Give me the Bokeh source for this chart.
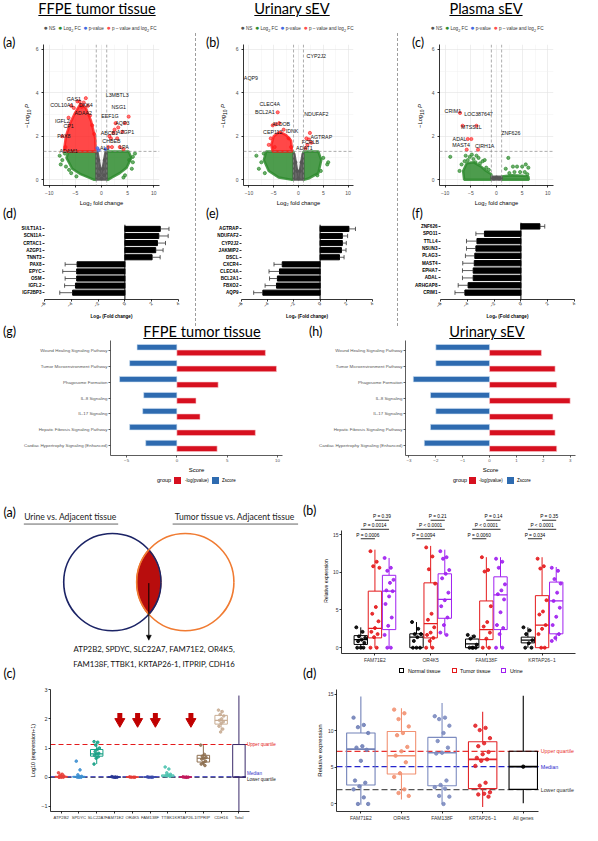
import math
import numpy as np
from bokeh.plotting import figure
from bokeh.layouts import row, column
from bokeh.models import Div, Span, Range1d, FixedTicker, Arrow, NormalHead
from bokeh.core.properties import value
from bokeh.embed import file_html
from bokeh.resources import INLINE

# ======================= DATA =======================
# ---- volcano (a) FFPE tumor tissue (x = log2 FC, y = -log10 P)
va_green_core_xs = [[-1.0, -1.0, -6.3, -6.7, -5.6, -4.0, -2.5, -1.5], [1.0, 1.0, 5.2, 5.7, 4.8, 3.5, 2.0, 1.3]]
va_green_core_ys = [[0.0, 1.3, 1.3, 1.0, 0.5, 0.25, 0.1, 0.0], [0.0, 1.3, 1.3, 1.0, 0.55, 0.3, 0.1, 0.0]]
va_gray_core_x = [-1.0, -1.0, -0.75, 0.0, 0.75, 1.0, 1.0]
va_gray_core_y = [0.0, 1.3, 1.3, 0.25, 1.3, 1.3, 0.0]
va_red_core_x = [-1.1, -1.2, -2.0, -3.0, -4.0, -5.0, -6.0, -6.8, -7.2]
va_red_core_y = [1.3, 1.9, 2.7, 3.3, 3.5, 3.1, 2.6, 2.0, 1.3]
va_red_x = [-3.0, -5.8, -3.8, -2.6, -6.3, -7.5, -4.6, -2.2, -1.4, -6.9, -5.3, -4.2, -3.4, -1.8,
            1.3, 1.8, 2.5, 2.3, 3.0, 4.0, 4.5, 5.2, 3.5, 4.2, 2.7, 1.5, 2.0, 3.2]
va_red_y = [3.75, 3.4, 3.35, 3.4, 2.85, 2.0, 3.6, 2.95, 2.1, 1.5, 3.3, 3.6, 3.55, 2.5,
            1.5, 1.9, 2.3, 2.15, 1.9, 2.2, 2.6, 2.9, 1.5, 1.4, 2.6, 2.0, 1.5, 2.4]
va_green_x = [-7.5, -6.8, -7.0, -8.0, -5.8, 6.0, 6.4, 5.8, 4.5, -6.2, 5.3, 6.0, -7.8, 4.2, -4.8]
va_green_y = [0.9, 0.6, 1.2, 1.1, 0.3, 0.8, 1.2, 0.5, 0.2, 0.45, 0.9, 1.05, 0.7, 0.1, 0.15]
va_gray_x = [-0.3, 0.3, -0.6, 0.6, 0.0, -0.5, 0.5]
va_gray_y = [0.5, 0.5, 0.9, 0.9, 0.05, 0.2, 0.2]
va_blue_x = [-0.8, -0.55, 0.8]
va_blue_y = [1.45, 1.35, 1.4]
va_lab_text = ["GAS1", "COL10A1", "DKK4", "ADAA2", "IGFL2", "CP1", "PAX8", "ADAM1",
               "L3MBTL3", "NSG1", "EEF1G", "AQP3", "AZGP1", "ABCB1", "CHBEB", "AL1", "LPA"]
va_lab_x = [-5.3, -7.6, -3.0, -3.5, -7.5, -6.3, -7.2, -6.3, 3.0, 3.3, 1.6, 4.0, 4.6, 1.5, 1.9, 0.6, 4.3]
va_lab_y = [3.69, 3.45, 3.42, 3.05, 2.7, 2.45, 2.0, 1.33, 3.9, 3.35, 2.95, 2.6, 2.2, 2.15, 1.78, 1.45, 1.48]

# ---- volcano (b) urinary sEV
vb_green_core_xs = [[-1.0, -1.0, -6.5, -7.0, -6.0, -4.0, -1.5], [1.0, 1.0, 4.0, 4.6, 4.0, 2.0, 1.2]]
vb_green_core_ys = [[0.0, 1.3, 1.3, 0.9, 0.4, 0.1, 0.0], [0.0, 1.3, 1.3, 0.9, 0.3, 0.05, 0.0]]
vb_gray_core_x = [-1.0, -1.0, -0.8, 0.0, 0.8, 1.0, 1.0]
vb_gray_core_y = [0.0, 1.2, 1.2, 0.1, 1.2, 1.2, 0.0]
vb_red_core_x = [-1.3, -1.5, -2.5, -3.8, -5.0, -5.5, -5.2]
vb_red_core_y = [1.3, 1.8, 2.05, 2.2, 2.0, 1.6, 1.3]
vb_red_x = [-4.2, -5.2, -4.6, -3.9, -5.6, -6.0, -2.0, -1.5, -3.0, -4.8, 2.3, 2.1, 1.8, 2.6, 1.4, 1.6]
vb_red_y = [3.1, 2.5, 2.55, 2.6, 1.9, 1.6, 1.9, 1.5, 2.3, 1.5, 2.15, 1.85, 1.6, 1.7, 1.45, 1.9]
vb_green_x = [-8.5, -7.5, -7.0, -8.0, 5.8, 5.0, 4.5, 6.0, -6.8, 3.8]
vb_green_y = [1.1, 0.8, 1.2, 0.5, 0.7, 1.0, 0.4, 0.8, 0.3, 0.2]
vb_gray_x = [-0.3, 0.3, 0.0, -0.6, 0.6]
vb_gray_y = [0.4, 0.4, 0.05, 0.8, 0.8]
vb_blue_x = []
vb_blue_y = []
vb_lab_text = ["AQP9", "CLEC4A", "BCL2A1", "ALDOB", "CEP112", "IDNK", "CYP2J2", "NDUFAF2", "AGTRAP", "FCRLB", "ADAT1"]
vb_lab_x = [-9.6, -5.8, -6.8, -3.5, -5.2, -1.3, 3.6, 3.6, 4.6, 2.4, 1.2]
vb_lab_y = [4.67, 3.5, 3.1, 2.58, 2.2, 2.25, 5.7, 3.0, 1.96, 1.72, 1.47]

# ---- volcano (c) plasma sEV
vc_green_core_xs = [[-1.0, -6.3, -6.5, -5.8, -4.5, -3.0, -2.0, -1.0], [1.0, 1.0, 3.0, 5.0, 6.2, 6.3]]
vc_green_core_ys = [[0.0, 0.0, 0.4, 0.75, 0.8, 0.6, 0.4, 0.25], [0.0, 0.15, 0.2, 0.18, 0.15, 0.0]]
vc_gray_core_x = [-1.0, -1.0, 1.0, 1.0]
vc_gray_core_y = [0.0, 0.15, 0.15, 0.0]
vc_red_core_x = []
vc_red_core_y = []
vc_red_x = [-7.1, -6.6, -3.9, -5.6, -4.9, -5.8, -3.6]
vc_red_y = [3.07, 2.48, 2.48, 1.87, 1.87, 1.38, 1.38]
vc_green_x = [-9.0, -6.0, -5.2, -4.5, -3.5, -2.7, -3.2, -6.8, -7.2, -2.0, -1.5, 2.3, 3.2, 4.0, 5.0,
              6.2, 2.5, 3.5, 5.5, 1.8, -4.8, -4.1, -5.6, -6.2, -3.9, -2.3, 5.7, 4.6, 6.0]
vc_green_y = [1.05, 1.1, 1.05, 0.95, 1.0, 0.85, 0.75, 0.7, 0.4, 0.55, 0.45, 1.0, 0.6, 0.6, 0.6,
              0.55, 0.3, 0.35, 0.35, 0.5, 1.15, 0.8, 0.9, 0.85, 1.1, 0.9, 0.7, 0.35, 0.25]
vc_gray_x = [-0.5, 0.0, 0.5]
vc_gray_y = [0.05, 0.1, 0.05]
vc_blue_x = []
vc_blue_y = []
vc_lab_text = ["CRIM1", "LOC387647", "MTSS1L", "ZNF626", "ADAL", "MAST4", "CIRH1A"]
vc_lab_x = [-8.5, -3.5, -4.9, 2.8, -7.2, -6.9, -2.3]
vc_lab_y = [3.15, 3.0, 2.4, 2.13, 1.88, 1.6, 1.56]

# ---- (d)(e)(f) log2 fold change bars
d_genes = ["SULT1A1", "SCN11A", "CRTAC1", "AZGP1", "TNNT3", "PAX8", "EPYC", "OSM", "IGFL2", "IGF2BP3"]
d_fc = [2.64, 2.53, 2.43, 2.3, 2.03, -3.57, -3.6, -3.6, -3.69, -3.9]
d_err = [0.65, 0.7, 0.6, 0.55, 0.6, 0.89, 1.04, 0.86, 0.81, 0.96]
e_genes = ["AGTRAP", "NDUFAF2", "CYP2J2", "JAKMIP2", "DSCL", "CXCR4", "CLEC4A", "BCL2A1", "FBXO2", "AQP9"]
e_fc = [2.2, 1.7, 1.7, 1.63, 1.48, -2.89, -3.1, -3.26, -3.33, -4.37]
e_err = [0.5, 0.4, 0.3, 0.35, 0.35, 0.63, 0.8, 0.6, 0.87, 0.7]
f_genes = ["ZNF626", "SPO11", "TTLL4", "NSUN3", "PLAG3", "MAST4", "EPHA7", "ADAL", "ARHGAP8", "CRIM1"]
f_fc = [1.42, -2.72, -3.28, -3.36, -3.44, -3.48, -3.56, -3.56, -3.94, -4.18]
f_err = [0.36, 0.64, 0.78, 0.7, 0.7, 0.86, 0.8, 0.8, 0.74, 0.74]
fc_ticks = [-6, -4, -2, 0, 2, 4]

# ---- (g)(h) pathways
paths = ["Wound Healing Signaling Pathway", "Tumor Microenvironment Pathway", "Phagosome Formation",
         "IL-8 Signaling", "IL-17 Signaling", "Hepatic Fibrosis Signaling Pathway",
         "Cardiac Hypertrophy Signaling (Enhanced)"]
g_logp = [8.8, 9.9, 4.1, 1.9, 2.3, 7.8, 4.0]
g_z = [-3.96, -4.7, -5.7, -3.3, -3.4, -4.7, -3.1]
h_logp = [1.93, 2.44, 2.5, 3.0, 2.36, 2.44, 2.5]
h_z = [-2.0, -2.0, -2.84, -2.2, -2.0, -2.2, -2.43]

# ---- bottom (a) Venn
venn_titles = ["Urine vs. Adjacent tissue", "Tumor tissue vs. Adjacent tissue"]
venn_lines = ["ATP2B2, SPDYC, SLC22A7, FAM71E2, OR4K5,", "FAM138F, TTBK1, KRTAP26-1, ITPRIP, CDH16"]

# ---- bottom (b) relative expression box plots
b_genes = ["FAM71E2", "OR4K5", "FAM138F", "KRTAP26\u22121"]
b_groups = ["Normal tissue", "Tumor tissue", "Urine"]
b_normal_q1 = [0.43, 0.0, 0.0, 0.64]
b_normal_med = [1.07, 1.4, 0.5, 1.0]
b_normal_q3 = [1.6, 1.84, 1.15, 1.4]
b_normal_lo = [0.0, 0.0, 0.0, 0.0]
b_normal_hi = [2.7, 3.4, 1.7, 2.7]
b_tumor_q1 = [1.3, 1.3, 1.07, 0.0]
b_tumor_med = [2.57, 3.2, 2.4, 3.0]
b_tumor_q3 = [7.5, 8.6, 6.2, 6.9]
b_tumor_lo = [0.0, 0.0, 0.0, 0.0]
b_tumor_hi = [13.0, 13.5, 12.0, 12.0]
b_urine_q1 = [2.4, 3.9, 2.4, 1.84]
b_urine_med = [7.5, 6.4, 7.0, 6.2]
b_urine_q3 = [9.6, 9.8, 9.4, 8.7]
b_urine_lo = [0.0, 1.7, 0.0, 0.86]
b_urine_hi = [11.9, 13.0, 12.0, 10.7]
b_normal_pts = [[2.7, 2.1, 1.5, 1.3, 1.07, 0.86, 0.64, 0, 0, 0], [3.4, 2.5, 1.8, 1.8, 1.4, 0.9, 0, 0, 0],
                [1.7, 1.5, 1.2, 0.4, 0, 0, 0, 0], [2.7, 2.3, 1.8, 1.0, 0.6, 0, 0]]
b_tumor_pts = [[12.8, 11.4, 10.8, 10.6, 5.4, 4.5, 3.5, 2.6, 2.1, 1.8, 1.4, 0, 0],
               [13.3, 12.1, 10.4, 8.5, 4.5, 3.7, 2.7, 2.0, 1.7, 1.3, 0.9, 0, 0],
               [12.0, 10.3, 10.1, 5.5, 3.4, 2.8, 2.0, 1.2, 0, 0],
               [11.8, 10.8, 10.5, 6.3, 4.8, 4.4, 3.0, 2.5, 1.8, 0, 0]]
b_urine_pts = [[11.9, 10.6, 10.2, 9.0, 8.6, 7.6, 7.5, 6.8, 5.8, 4.0, 2.9, 1.7, 0, 0],
               [12.8, 12.0, 11.8, 10.3, 9.8, 9.2, 7.3, 6.3, 5.5, 4.0, 3.0, 2.0, 1.7],
               [11.8, 11.4, 10.6, 8.4, 7.6, 7.1, 6.4, 4.7, 3.0, 2.6, 1.8, 0, 0],
               [10.6, 10.2, 9.1, 8.5, 7.3, 6.2, 5.3, 4.1, 3.0, 1.8, 1.3, 0.9]]
b_p_nt = ["P = 0.0006", "P = 0.0094", "P = 0.0060", "P = 0.034"]
b_p_nu = ["P = 0.0014", "P < 0.0001", "P < 0.0001", "P < 0.0001"]
b_p_tu = ["P = 0.39", "P = 0.21", "P = 0.14", "P = 0.35"]

# ---- bottom (c) log10(expression+1)
c_genes = ["ATP2B2", "SPDYC", "SLC22A7", "FAM71E2", "OR4K5", "FAM138F", "TTBK1", "KRTAP26-1", "ITPRIP", "CDH16", "Total"]
c_q1 = [0.0, 0.0, 0.72, 0.0, 0.0, 0.0, 0.02, 0.0, 0.52, 1.82, 0.0]
c_med = [0.01, 0.01, 0.8, 0.0, 0.0, 0.0, 0.05, 0.0, 0.65, 1.95, 0.0]
c_q3 = [0.03, 0.03, 0.95, 0.01, 0.01, 0.01, 0.08, 0.01, 0.75, 2.12, 1.12]
c_lo = [0.0, 0.0, 0.45, 0.0, 0.0, 0.0, 0.0, 0.0, 0.4, 1.55, -1.25]
c_hi = [0.15, 0.08, 1.22, 0.02, 0.01, 0.01, 0.15, 0.02, 1.1, 2.3, 2.8]
c_pts = [[0.15, 0.1, 0.06, 0.04, 0.02, 0.01, 0, 0, 0],
         [0.55, 0.25, 0.08, 0.03, 0.01, 0, 0, 0],
         [1.22, 1.2, 1.1, 1.0, 0.95, 0.88, 0.82, 0.8, 0.75, 0.7, 0.65, 0.45],
         [0.02, 0, 0, 0, 0],
         [0.01, 0, 0, 0],
         [0.01, 0, 0, 0],
         [0.35, 0.28, 0.15, 0.1, 0.07, 0.05, 0.03],
         [0.01, 0, 0, 0, 0],
         [1.1, 0.78, 0.72, 0.68, 0.65, 0.62, 0.55, 0.5, 0.45, 0.4],
         [2.3, 2.25, 2.15, 2.1, 2.0, 1.95, 1.9, 1.85, 1.75, 1.65, 1.55],
         []]
c_colors = ["#e8403a", "#3d8fd1", "#16a085", "#283593", "#e53935", "#3949ab", "#4fc3b0", "#c2185b", "#8d6e4f", "#c8ad94", "#3a2a6a"]
c_arrow_genes = ["FAM71E2", "OR4K5", "FAM138F", "KRTAP26-1"]
c_arrow_level = 2.0
c_upper, c_median, c_lower = 1.12, 0.015, 0.0
c_ref_labels = ["Upper quartile", "Median", "Lower quartile"]

# ---- bottom (d) relative expression vs all genes
dd_genes = ["FAM71E2", "OR4K5", "FAM138F", "KRTAP26\u22121", "All genes"]
dd_q1 = [2.6, 4.1, 2.5, 2.1, 2.0]
dd_med = [7.5, 6.6, 7.0, 6.1, 5.1]
dd_q3 = [9.7, 9.9, 9.1, 8.5, 7.2]
dd_lo = [-0.1, 0.6, 0.0, -0.4, 0.1]
dd_hi = [14.7, 13.1, 13.8, 12.6, 14.8]
dd_pts = [[11.8, 10.8, 10.5, 9.7, 7.9, 7.7, 7.4, 5.9, 3.2, 2.9, 2.4, 2.0, 0.9, 0, 0],
          [12.9, 12.4, 11.6, 10.6, 9.7, 9.4, 7.8, 7.2, 6.6, 5.7, 4.2, 3.7, 2.0, 1.5, 1.1],
          [12.0, 11.8, 11.6, 10.7, 9.7, 8.6, 7.7, 7.0, 6.9, 3.2, 2.6, 2.3, 2.1, 1.1, 1.0, 0],
          [10.7, 10.4, 10.1, 9.0, 8.3, 7.9, 7.1, 6.8, 6.3, 6.1, 5.9, 5.2, 2.9, 2.5, 1.6, 1.4, 1.3, 1.0],
          [5.1]]
dd_colors = ["#7282b8", "#f29273", "#7d8cc0", "#e3262a", "black"]
dd_upper, dd_median, dd_lower = 7.2, 5.1, 1.95

# ======================= LAYOUT HELPERS =======================
W_PAGE, H_PAGE = 582, 825
SX, SY = W_PAGE / 598.0, H_PAGE / 841.0


def X(v):
    return int(round(v * SX))


def Y(v):
    return int(round(v * SY))


PF = "Liberation Sans"
TF = "Lato"
GREEN, GRAY, REDV, BLUEV = "#2e8b2e", "#555555", "#ff1a1a", "#4169e1"
RED_BAR, BLUE_BAR = "#d7101f", "#2e6bb0"


def mkfig(cell, frame, xr, yr, axes=True):
    xa, ya, xb, yb = cell
    fl, ft, fr, fb = frame
    kw = {}
    if not axes:
        kw = dict(x_axis_location=None, y_axis_location=None)
    p = figure(width=xb - xa, height=yb - ya, x_range=xr, y_range=yr,
               output_backend="svg", toolbar_location=None, title=None,
               min_border_left=max(0, X(fl) - xa), min_border_right=max(0, xb - X(fr)),
               min_border_top=max(0, Y(ft) - ya), min_border_bottom=max(0, yb - Y(fb)), **kw)
    p.outline_line_color = None
    p.xgrid.visible = False
    p.ygrid.visible = False
    return p


def style_axes(p, lab_size="5px", title_size="6px", color="#4d4d4d", line_color="black", lw=0.8):
    for ax in p.axis:
        ax.major_label_text_font = PF
        ax.major_label_text_font_size = lab_size
        ax.major_label_text_color = color
        ax.axis_label_text_font = PF
        ax.axis_label_text_font_size = title_size
        ax.axis_label_text_font_style = "normal"
        ax.axis_label_text_color = "black"
        ax.axis_line_color = line_color
        ax.axis_line_width = lw
        ax.major_tick_line_color = line_color
        ax.major_tick_line_width = lw
        ax.major_tick_in = 0
        ax.major_tick_out = 2
        ax.minor_tick_line_color = None
        ax.major_label_standoff = 1
        ax.axis_label_standoff = 2


def jit(n, spread):
    return [((i * 7) % 11 / 10.0 - 0.5) * spread for i in range(n)]


def abs_item(x, y, html, size, color="black", anchor="left", font=TF, extra=""):
    tx = {"left": "none", "center": "translateX(-50%)", "right": "translateX(-100%)",
          "rot": "translate(-50%,-50%) rotate(-90deg)"}[anchor]
    return (f'<div style="position:absolute;left:{x}px;top:{y}px;transform:{tx};white-space:nowrap;'
            f'font-family:{font};font-size:{size};font-weight:400;color:{color};line-height:1;{extra}">{html}</div>')


def abs_div(items, w, h):
    return Div(text=f'<div style="position:relative;width:{w}px;height:{h}px;">{"".join(items)}</div>',
               width=w, height=h, margin=0)


def boxes(p, xs, q1, med, q3, lo, hi, colors, width, lw=1.0, med_w=1.2):
    left = [x - width / 2 for x in xs]
    right = [x + width / 2 for x in xs]
    p.segment(x0=xs, y0=q3, x1=xs, y1=hi, line_color=colors, line_width=lw)
    p.segment(x0=xs, y0=q1, x1=xs, y1=lo, line_color=colors, line_width=lw)
    p.quad(left=left, right=right, bottom=q1, top=q3, fill_color=None, line_color=colors, line_width=lw)
    p.segment(x0=left, y0=med, x1=right, y1=med, line_color=colors, line_width=med_w)


# ======================= PANELS =======================
def volcano(cell, frame, d):
    p = mkfig(cell, frame, Range1d(-11.1, 11.1), Range1d(-0.27, 6.22))
    p.xaxis.ticker = FixedTicker(ticks=[-10, -5, 0, 5, 10], minor_ticks=[-7.5, -2.5, 2.5, 7.5])
    p.yaxis.ticker = FixedTicker(ticks=[0, 2, 4, 6], minor_ticks=[1, 3, 5])
    for g in (p.xgrid, p.ygrid):
        g.visible = True
        g.grid_line_color = "#e2e2e2"
        g.grid_line_width = 0.6
        g.minor_grid_line_color = "#f1f1f1"
        g.minor_grid_line_width = 0.5
    p.patches(xs=d["gxs"], ys=d["gys"], fill_color=GREEN, line_color=GREEN, line_width=2.5, alpha=0.85)
    p.patch(d["grx"], d["gry"], fill_color=GRAY, line_color=GRAY, line_width=2, alpha=0.9)
    if d["rcx"]:
        p.patch(d["rcx"], d["rcy"], fill_color=REDV, line_color=REDV, line_width=2.5, alpha=0.8)
    p.scatter(d["gx"], d["gy"], size=3.2, color=GREEN, alpha=0.7)
    p.scatter(d["ax"], d["ay"], size=3.0, color=GRAY, alpha=0.8)
    if d["bx"]:
        p.scatter(d["bx"], d["by"], size=3.0, color=BLUEV, alpha=0.8)
    p.scatter(d["rx"], d["ry"], size=3.2, color=REDV, alpha=0.6)
    for loc, dim in ((-1, "height"), (1, "height"), (1.3, "width")):
        p.add_layout(Span(location=loc, dimension=dim, line_color="#8a8a8a", line_width=0.7, line_dash="3 2"))
    p.text(x=d["lx"], y=d["ly"], text=d["lt"], text_font=value(PF), text_font_size=value("5.3px"),
           text_align="center", text_baseline="middle", text_color="#111111")
    p.xaxis.axis_label = "Log\u2082 fold change"
    style_axes(p, "5px", "5.8px")
    return p


def volc_side(xa, xb, y0, y1, plabel, lx, ylx):
    items = [abs_item(X(lx) - xa, Y(44) - y0 - 6, plabel, "12.5px"),
             abs_item(X(ylx) - xa, Y(118) - y0, "\u2212Log<sub>10</sub> <i>P</i>", "5.8px", anchor="rot", font=PF)]
    return abs_div(items, xb - xa, y1 - y0)


def fcbar(cell, frame, genes, fc, err, yr):
    p = mkfig(cell, frame, Range1d(-6, 4), yr)
    ys = list(range(len(genes)))
    p.hbar(y=ys, left=0, right=fc, height=0.72, fill_color="black", line_color="black")
    ends = [v + (e if v > 0 else -e) for v, e in zip(fc, err)]
    p.segment(x0=fc, y0=ys, x1=ends, y1=ys, line_color="#333333", line_width=0.8)
    p.segment(x0=ends, y0=[v - 0.3 for v in ys], x1=ends, y1=[v + 0.3 for v in ys],
              line_color="#333333", line_width=0.8)
    p.add_layout(Span(location=0, dimension="height", line_color="black", line_width=1))
    p.yaxis.ticker = FixedTicker(ticks=ys)
    p.yaxis.major_label_overrides = {i: g for i, g in enumerate(genes)}
    p.xaxis.ticker = FixedTicker(ticks=fc_ticks)
    p.xaxis.major_label_orientation = math.pi / 4
    p.xaxis.axis_label = "Log\u2082 (Fold change)"
    style_axes(p, "4.6px", "4.6px", color="black")
    p.yaxis.major_label_text_font_style = "bold"
    p.xaxis.axis_label_text_font_style = "bold"
    p.yaxis.axis_line_color = None
    return p


def pathway(cell, frame, xr, ticks, z, lp):
    p = mkfig(cell, frame, xr, Range1d(6.6, -0.6))
    ys = list(range(len(paths)))
    p.hbar(y=[v - 0.175 for v in ys], left=0, right=z, height=0.35, fill_color=BLUE_BAR,
           line_color="#cfe0f2", line_width=0.6)
    p.hbar(y=[v + 0.175 for v in ys], left=0, right=lp, height=0.35, fill_color=RED_BAR,
           line_color="#f7c6cb", line_width=0.6)
    p.xaxis.ticker = FixedTicker(ticks=ticks)
    p.yaxis.ticker = FixedTicker(ticks=ys)
    p.yaxis.major_label_overrides = {i: s for i, s in enumerate(paths)}
    p.xaxis.axis_label = "Score"
    style_axes(p, "4.4px", "6px", color="#555555", line_color="#333333", lw=0.8)
    return p


# ======================= BUILD =======================
c1 = (0, X(200))
c2 = (X(200) + 1, X(408))
c3 = (X(408) + 1, X(598))
yh = Y(34)
yv0, yv1 = Y(34), Y(212)
ys0, ys1 = Y(212), Y(226)
yb0, yb1 = Y(226), Y(332)

# header (titles + volcano legends)
leg_items = [("#555555", "NS"), (GREEN, "Log<sub>2</sub> FC"), (BLUEV, "p-value"),
             ("#ff4d4d", "p \u2013 value and log<sub>2</sub> FC")]
leg_html = "&nbsp;&nbsp;".join(f'<span style="color:{c};font-size:7px">\u25cf</span> {t}' for c, t in leg_items)
head_items = []
for cx, t in ((100, "FFPE tumor tissue"), (300, "Urinary sEV"), (499, "Plasma sEV")):
    head_items.append(abs_item(X(cx), 2, t, "14.6px", anchor="center", extra="text-decoration:underline;"))
for cx in (103, 305, 500):
    head_items.append(abs_item(X(cx), Y(24), leg_html, "4.6px", color="#333333", anchor="center", font=PF))
header = abs_div(head_items, W_PAGE, yh)

VA = dict(gxs=va_green_core_xs, gys=va_green_core_ys, grx=va_gray_core_x, gry=va_gray_core_y,
          rcx=va_red_core_x, rcy=va_red_core_y, rx=va_red_x, ry=va_red_y, gx=va_green_x, gy=va_green_y,
          ax=va_gray_x, ay=va_gray_y, bx=va_blue_x, by=va_blue_y, lx=va_lab_x, ly=va_lab_y, lt=va_lab_text)
VB = dict(gxs=vb_green_core_xs, gys=vb_green_core_ys, grx=vb_gray_core_x, gry=vb_gray_core_y,
          rcx=vb_red_core_x, rcy=vb_red_core_y, rx=vb_red_x, ry=vb_red_y, gx=vb_green_x, gy=vb_green_y,
          ax=vb_gray_x, ay=vb_gray_y, bx=vb_blue_x, by=vb_blue_y, lx=vb_lab_x, ly=vb_lab_y, lt=vb_lab_text)
VC = dict(gxs=vc_green_core_xs, gys=vc_green_core_ys, grx=vc_gray_core_x, gry=vc_gray_core_y,
          rcx=vc_red_core_x, rcy=vc_red_core_y, rx=vc_red_x, ry=vc_red_y, gx=vc_green_x, gy=vc_green_y,
          ax=vc_gray_x, ay=vc_gray_y, bx=vc_blue_x, by=vc_blue_y, lx=vc_lab_x, ly=vc_lab_y, lt=vc_lab_text)

panels_top = []
for (xa, xb), split, frame, dat, pl, lx, ylx, bl, bframe, bg, bf, be, byr in (
        (c1, 33, (40, 45, 163, 191), VA, "(a)", 3, 30, "(d)", (45, 228, 183, 305), d_genes, d_fc, d_err, (9.96, -0.62)),
        (c2, 238, (245, 45, 363, 191), VB, "(b)", 212, 231, "(e)", (248, 228, 382, 305), e_genes, e_fc, e_err, (9.96, -0.62)),
        (c3, 440, (447, 45, 568, 191), VC, "(c)", 423, 434, "(f)", (452, 226, 590, 305), f_genes, f_fc, f_err, (9.93, -0.53))):
    side = volc_side(xa, X(split), yv0, yv1, pl, lx, ylx)
    pv_ = volcano((X(split), yv0, xb, yv1), frame, dat)
    strip = abs_div([abs_item(X(lx) - xa, 0, bl, "12.5px")], xb - xa, ys1 - ys0)
    pbar = fcbar((xa, yb0, xb, yb1), bframe, bg, bf, be, Range1d(*byr))
    panels_top.append(column(row(side, pv_), strip, pbar))


def sep():
    h = yb1 - yv0
    return Div(text=f'<div style="border-left:1px dashed #9d9d9d;width:0;height:{h}px"></div>',
               width=1, height=h, margin=0)


rowA = row(panels_top[0], sep(), panels_top[1], sep(), panels_top[2])

# row B: pathway titles, charts, legends
tB0, tB1 = Y(332), Y(347)
titlesB = abs_div([abs_item(X(3), 0, "(g)", "12.5px"),
                   abs_item(X(208), -1, "FFPE tumor tissue", "14.6px", anchor="center", extra="text-decoration:underline;"),
                   abs_item(X(317), 0, "(h)", "12.5px"),
                   abs_item(X(500), -1, "Urinary sEV", "14.6px", anchor="center", extra="text-decoration:underline;")],
                  W_PAGE, tB1 - tB0)
gB0, gB1 = Y(347), Y(484)
pg = pathway((0, gB0, X(300), gB1), (113, 347, 290, 464), Range1d(-6.6, 10.5), [-5, 0, 5, 10], g_z, g_logp)
ph = pathway((X(300), gB0, W_PAGE, gB1), (416, 347, 591, 464), Range1d(-3.13, 3.2), [-3, -2, -1, 0, 1, 2, 3], h_z, h_logp)


def sq(c, style="fill"):
    if style == "fill":
        return f'<span style="display:inline-block;width:7px;height:7px;background:{c};vertical-align:middle"></span>'
    return f'<span style="display:inline-block;width:5px;height:5px;border:1px solid {c};vertical-align:middle"></span>'


lB0, lB1 = Y(484), Y(505)
ly_ = Y(490) - lB0
legendB = abs_div([abs_item(X(161), ly_ - 3, "group", "5.5px", font=PF),
                   abs_item(X(179), ly_ - 4, sq(RED_BAR), "5px"),
                   abs_item(X(190), ly_ - 2, "-log(pvalue)", "4.5px", font=PF),
                   abs_item(X(218), ly_ - 4, sq(BLUE_BAR), "5px"),
                   abs_item(X(228), ly_ - 2, "Zscore", "4.5px", font=PF),
                   abs_item(X(465), ly_ - 3, "group", "5.5px", font=PF),
                   abs_item(X(482), ly_ - 4, sq(RED_BAR), "5px"),
                   abs_item(X(492), ly_ - 2, "-log(pvalue)", "4.5px", font=PF),
                   abs_item(X(521), ly_ - 4, sq(BLUE_BAR), "5px"),
                   abs_item(X(531), ly_ - 2, "Zscore", "4.5px", font=PF)], W_PAGE, lB1 - lB0)

# row C: Venn (also hosts panel letters) and (b) boxplot
rC0, rC1, rCm = Y(505), Y(697), Y(678)
VENN_W = 328
pv = mkfig((0, rC0, X(VENN_W), rC1), (0, 505, VENN_W, 697), Range1d(0, VENN_W), Range1d(697, 505), axes=False)
vc1, vc2, vr = (115.0, 593.0), (190.0, 593.0), 50.0
half = math.acos(((vc2[0] - vc1[0]) / 2) / vr)
t1 = np.linspace(-half, half, 50)
t2 = np.linspace(math.pi - half, math.pi + half, 50)
lens_x = list(vc1[0] + vr * np.cos(t1)) + list(vc2[0] + vr * np.cos(t2))
lens_y = list(vc1[1] + vr * np.sin(t1)) + list(vc2[1] + vr * np.sin(t2))
pv.patch(lens_x, lens_y, fill_color="#b80d0d", line_color="#e0501a", line_width=1.2)
pv.circle(x=[vc1[0]], y=[vc1[1]], radius=vr, fill_color=None, line_color="#1c2466", line_width=1.6)
pv.circle(x=[vc2[0]], y=[vc2[1]], radius=vr, fill_color=None, line_color="#f07b32", line_width=1.6)
pv.add_layout(Arrow(end=NormalHead(size=5, fill_color="black", line_color="black", line_width=0.5),
                    x_start=152.5, y_start=594, x_end=152.5, y_end=652, line_color="black", line_width=1))
pv.text(x=[3, 311, 3, 311], y=[522, 520, 686, 686], text=["(a)", "(b)", "(c)", "(d)"], text_font=value(TF),
        text_font_size=value("12.5px"), text_align="left", text_baseline="middle")
pv.text(x=[72, 241], y=[527, 527], text=venn_titles, text_font=value(TF), text_font_size=value("8.6px"),
        text_align="center", text_baseline="middle", text_color="#222222")
pv.segment(x0=[24, 177], y0=[534, 534], x1=[121, 306], y1=[534, 534], line_color="#222222", line_width=0.7)
pv.text(x=[158, 158], y=[661, 676], text=venn_lines, text_font=value(TF), text_font_size=value("7.8px"),
        text_align="center", text_baseline="middle", text_color="#111111")

bx0 = X(VENN_W)
pbb = mkfig((bx0, rC0, W_PAGE, rCm), (343, 518, 591, 668), Range1d(0.4, 4.6), Range1d(-0.77, 18.46))
b_offs = [-0.254, 0.0, 0.254]
b_cols = ["black", "#e41a1c", "#a020f0"]
b_stats = [(b_normal_q1, b_normal_med, b_normal_q3, b_normal_lo, b_normal_hi, b_normal_pts),
           (b_tumor_q1, b_tumor_med, b_tumor_q3, b_tumor_lo, b_tumor_hi, b_tumor_pts),
           (b_urine_q1, b_urine_med, b_urine_q3, b_urine_lo, b_urine_hi, b_urine_pts)]
for k, (q1, med, q3, lo, hi, pts) in enumerate(b_stats):
    xs = [g + 1 + b_offs[k] for g in range(len(b_genes))]
    boxes(pbb, xs, q1, med, q3, lo, hi, [b_cols[k]] * len(xs), 0.24, lw=1.0, med_w=1.2)
    px, py = [], []
    for g, vals in enumerate(pts):
        px += [xs[g] + j for j in jit(len(vals), 0.16)]
        py += vals
    pbb.scatter(px, py, size=3.0, color=b_cols[k], alpha=0.9)
lv = [14.45, 15.7, 16.9]
sx0, sx1, sy_, tx_, ty_, tt_ = [], [], [], [], [], []
for g in range(len(b_genes)):
    cxs = [g + 1 + o for o in b_offs]
    for (a, b_), lvl, txt in (((0, 1), lv[0], b_p_nt[g]), ((0, 2), lv[1], b_p_nu[g]), ((1, 2), lv[2], b_p_tu[g])):
        sx0.append(cxs[a]); sx1.append(cxs[b_]); sy_.append(lvl)
        tx_.append((cxs[a] + cxs[b_]) / 2); ty_.append(lvl + 0.12); tt_.append(txt)
pbb.segment(x0=sx0, y0=sy_, x1=sx1, y1=sy_, line_color="black", line_width=0.8)
pbb.text(x=tx_, y=ty_, text=tt_, text_font=value(PF), text_font_size=value("4.8px"),
         text_align="center", text_baseline="bottom")
pbb.xaxis.ticker = FixedTicker(ticks=[1, 2, 3, 4])
pbb.xaxis.major_label_overrides = {i + 1: g for i, g in enumerate(b_genes)}
pbb.yaxis.ticker = FixedTicker(ticks=[0, 5, 10, 15])
pbb.yaxis.bounds = (-0.77, 15.6)
pbb.yaxis.axis_label = "Relative expression"
style_axes(pbb, "5px", "5px", color="#333333")
pbb.yaxis.axis_label_standoff = 1

# (b) legend
ly2 = Y(684) - rCm - 3
legb = abs_div([abs_item(X(410) - bx0, ly2, sq("black", "box"), "5px"),
                abs_item(X(419) - bx0, ly2 + 1, "Normal tissue", "5.3px", font=PF),
                abs_item(X(464) - bx0, ly2, sq("#e41a1c", "box"), "5px"),
                abs_item(X(473) - bx0, ly2 + 1, "Tumor tissue", "5.3px", font=PF),
                abs_item(X(515) - bx0, ly2, sq("#a020f0", "box"), "5px"),
                abs_item(X(524) - bx0, ly2 + 1, "Urine", "5.3px", font=PF)], W_PAGE - bx0, rC1 - rCm)

# row D: (c) and (d)
rD0, rD1 = Y(697), H_PAGE
pcc = mkfig((0, rD0, X(298), rD1), (51, 699, 296, 827), Range1d(0.4, 13.79), Range1d(-1.176, 3.007))
cxs = list(range(1, len(c_genes) + 1))
pcc.segment(x0=[0.4] * 3, y0=[c_lower, c_median, c_upper], x1=[11.4, 11.4, 11.55], y1=[c_lower, c_median, c_upper],
            line_color=["#222222", "#3535c8", "#e41a1c"], line_width=1.1, line_dash="5 3")
boxes(pcc, cxs, c_q1, c_med, c_q3, c_lo, c_hi, c_colors, 0.7, lw=1.0, med_w=1.2)
px, py, pcol = [], [], []
for g, vals in enumerate(c_pts):
    px += [cxs[g] + j for j in jit(len(vals), 0.3)]
    py += vals
    pcol += [c_colors[g]] * len(vals)
pcc.scatter(px, py, size=2.6, color=pcol, alpha=0.85)
ax_ = [c_genes.index(g) + 1 + 0.3 for g in c_arrow_genes]
pcc.vbar(x=ax_, bottom=c_arrow_level, top=c_arrow_level + 0.2, width=0.28, fill_color="#c00000", line_color=None)
pcc.scatter(ax_, [c_arrow_level - 0.09] * len(ax_), marker="inverted_triangle", size=10, color="#c00000")
pcc.text(x=[11.45] * 3, y=[c_upper, c_median + 0.1, c_lower - 0.07], text=c_ref_labels,
         text_font=value(PF), text_font_size=value("4.6px"), text_align="left", text_baseline="middle",
         text_color=["#e41a1c", "#3535c8", "#222222"])
pcc.xaxis.ticker = FixedTicker(ticks=cxs)
pcc.xaxis.major_label_overrides = {i + 1: g for i, g in enumerate(c_genes)}
pcc.xaxis.bounds = (0.4, 11.6)
pcc.yaxis.ticker = FixedTicker(ticks=[-1, 0, 1, 2, 3])
pcc.yaxis.axis_label = "Log10 (expression+1)"
style_axes(pcc, "4.2px", "5.5px", color="#333333")
pcc.yaxis.major_label_text_font_size = "5.5px"

pdd = mkfig((X(298), rD0, W_PAGE, rD1), (345, 702, 596, 831), Range1d(0.4, 6.41), Range1d(-1.03, 15.65))
pdd.segment(x0=[0.4] * 3, y0=[dd_upper, dd_median, dd_lower], x1=[5.38] * 3, y1=[dd_upper, dd_median, dd_lower],
            line_color=["#e8312f", "#2424cc", "#555555"], line_width=1.3, line_dash="6 3")
dxs = list(range(1, len(dd_genes) + 1))
boxes(pdd, dxs, dd_q1, dd_med, dd_q3, dd_lo, dd_hi, dd_colors, 0.7, lw=1.1, med_w=1.6)
px, py, pcol = [], [], []
for g, vals in enumerate(dd_pts):
    px += [dxs[g] + j for j in (jit(len(vals), 0.36) if len(vals) > 1 else [0.0])]
    py += vals
    pcol += [dd_colors[g]] * len(vals)
pdd.scatter(px, py, size=3.4, color=pcol, alpha=0.9)
pdd.text(x=[5.43] * 3, y=[dd_upper, dd_median, dd_lower], text=c_ref_labels,
         text_font=value(PF), text_font_size=value("5.3px"), text_align="left", text_baseline="middle",
         text_color=["#e8312f", "#2424cc", "#333333"])
pdd.xaxis.ticker = FixedTicker(ticks=dxs)
pdd.xaxis.major_label_overrides = {i + 1: g for i, g in enumerate(dd_genes)}
pdd.xaxis.bounds = (0.4, 5.38)
pdd.yaxis.ticker = FixedTicker(ticks=[0, 5, 10, 15])
pdd.yaxis.axis_label = "Relative expression"
style_axes(pdd, "5px", "6px", color="#333333")

layout = column(header, rowA, titlesB, row(pg, ph), legendB,
                row(pv, column(pbb, legb)), row(pcc, pdd))

html = file_html(layout, INLINE, title="Figure")
with open("out.html", "w") as f:
    f.write(html)
